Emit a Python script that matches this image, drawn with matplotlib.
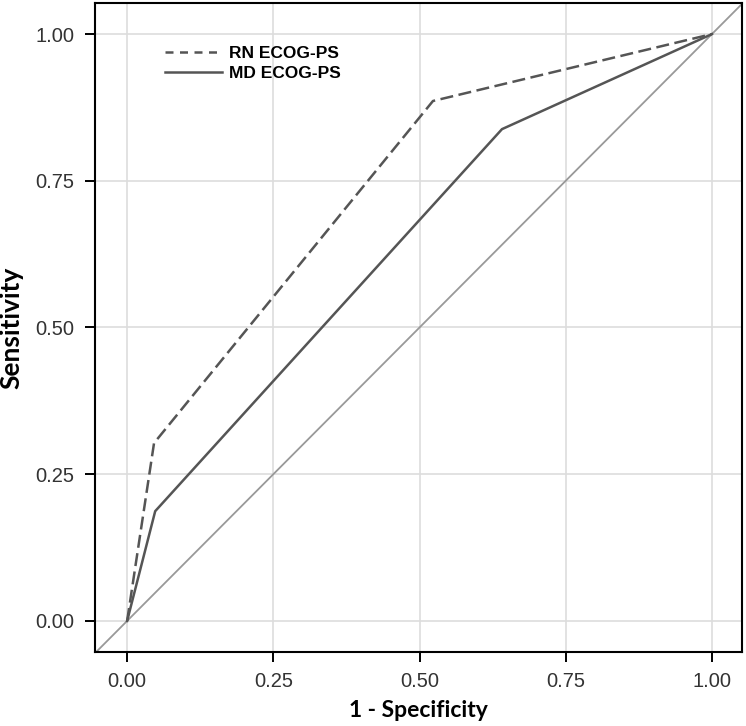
import matplotlib
matplotlib.use('Agg')
import matplotlib.pyplot as plt
from matplotlib.lines import Line2D

# ROC points
rn_fpr = [0.0, 0.046, 0.523, 1.0]
rn_tpr = [0.0, 0.303, 0.886, 1.0]
md_fpr = [0.0, 0.048, 0.641, 1.0]
md_tpr = [0.0, 0.187, 0.838, 1.0]
ticks = [0.0, 0.25, 0.5, 0.75, 1.0]
tick_labels = ['0.00', '0.25', '0.50', '0.75', '1.00']

plt.rcParams['font.family'] = ['Liberation Sans', 'DejaVu Sans']

fig = plt.figure(figsize=(7.46, 7.26), dpi=100)
ax = fig.add_axes([0.1273, 0.1019, 0.867, 0.894])

ax.grid(True, color='#dddddd', linewidth=1.2)
ax.set_axisbelow(True)

# chance diagonal
ax.axline((0, 0), (1, 1), color='#999999', linewidth=1.3, zorder=2)

line_col = '#555555'
ax.plot(rn_fpr, rn_tpr, color=line_col, linewidth=1.8, linestyle=(0, (5.2, 2.2)),
        zorder=3)
ax.plot(md_fpr, md_tpr, color=line_col, linewidth=1.8, linestyle='-', zorder=3)

ax.set_xlim(-0.055, 1.051)
ax.set_ylim(-0.053, 1.053)
ax.set_xticks(ticks)
ax.set_xticklabels(tick_labels)
ax.set_yticks(ticks)
ax.set_yticklabels(tick_labels)
ax.tick_params(direction='out', length=7.2, width=1.4, labelsize=14.5,
               labelcolor='#333333', pad=7.5)
for sp in ax.spines.values():
    sp.set_linewidth(1.5)
    sp.set_color('black')

ax.set_xlabel('1 - Specificity', family=['Lato', 'DejaVu Sans'],
              fontweight='bold', fontsize=16.5, labelpad=6)
ax.set_ylabel('Sensitivity', family=['Lato', 'DejaVu Sans'],
              fontweight='bold', fontsize=19, labelpad=9)

handles = [Line2D([], [], color=line_col, linewidth=1.8, linestyle=(0, (3.2, 2.6))),
           Line2D([], [], color=line_col, linewidth=1.8, linestyle='-')]
ax.legend(handles, ['RN ECOG-PS', 'MD ECOG-PS'], loc='upper left',
          bbox_to_anchor=(0.097, 0.944), frameon=False,
          prop={'weight': 'bold', 'size': 12.5}, handlelength=3.3,
          handletextpad=0.4, labelspacing=0.25, borderaxespad=0)

fig.savefig('out.png', dpi=100)
